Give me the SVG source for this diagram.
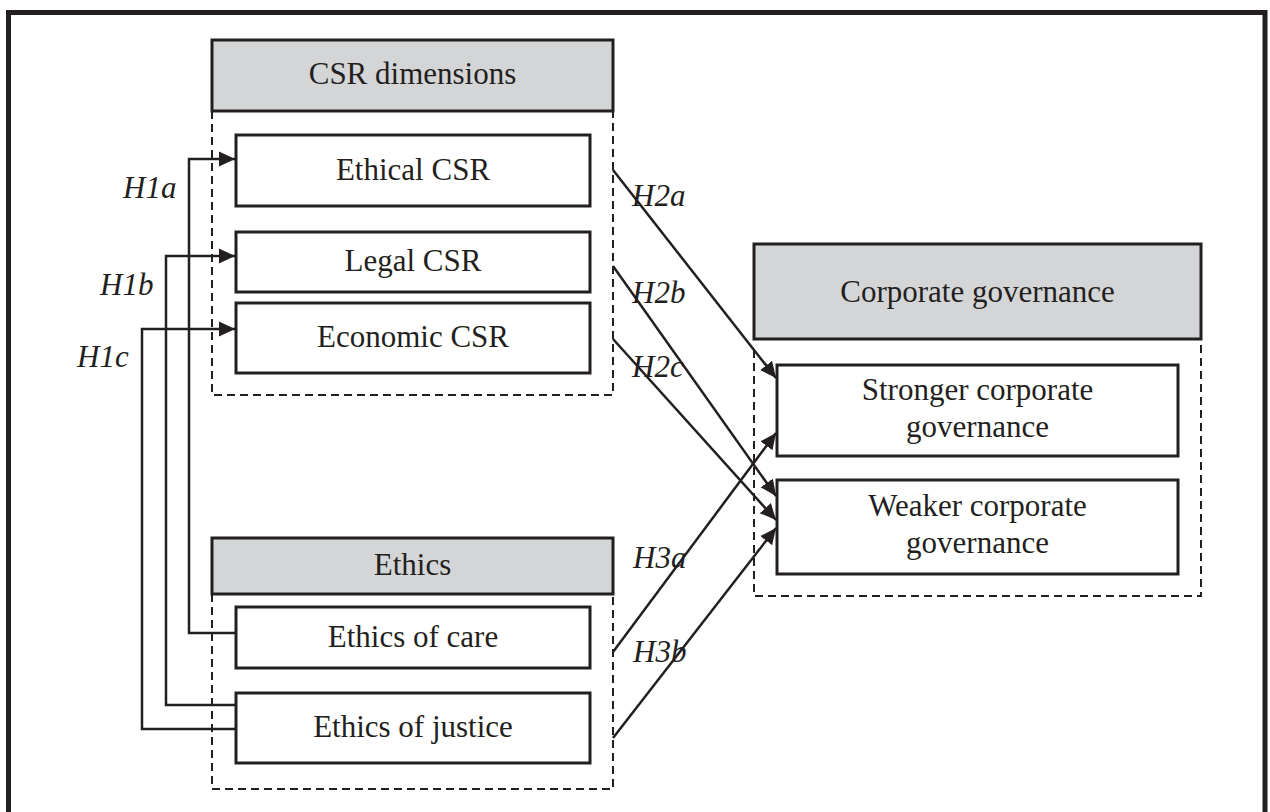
<svg xmlns="http://www.w3.org/2000/svg" width="1270" height="812" viewBox="0 0 1270 812">
<style>
  .frame { fill: none; stroke: #231f20; stroke-width: 5; }
  .hdr { fill: #d4d5d7; stroke: #231f20; stroke-width: 3; }
  .box { fill: #ffffff; stroke: #231f20; stroke-width: 3; }
  .dash { fill: none; stroke: #231f20; stroke-width: 2; stroke-dasharray: 8 5; }
  .lbl { font-family: "Liberation Serif", "Times New Roman", serif; font-size: 31px; fill: #231f20; text-anchor: middle; }
  .hyp { font-family: "Liberation Serif", "Times New Roman", serif; font-size: 31px; font-style: italic; fill: #231f20; }
  .con { fill: none; stroke: #231f20; stroke-width: 2.5; }
</style>
<defs>
  <marker id="arr" markerUnits="userSpaceOnUse" markerWidth="17" markerHeight="17" viewBox="0 0 17 17" refX="16" refY="8.5" orient="auto">
    <path d="M0,1 L16,8.5 L0,16 z" fill="#231f20"/>
  </marker>
</defs>
<rect width="1270" height="812" fill="#ffffff"/>
<rect class="frame" x="8.5" y="12.5" width="1256.5" height="830"/>

<g id="csr-group">
  <rect class="hdr" x="212" y="40" width="401" height="71"/>
  <text class="lbl" x="412.5" y="84">CSR dimensions</text>
  <path class="dash" d="M212,111 V395 H613 V111"/>
</g>
<g id="ethical-csr">
  <rect class="box" x="236" y="135" width="354" height="71"/>
  <text class="lbl" x="413" y="180">Ethical CSR</text>
</g>
<g id="legal-csr">
  <rect class="box" x="236" y="232" width="354" height="60"/>
  <text class="lbl" x="413" y="271">Legal CSR</text>
</g>
<g id="economic-csr">
  <rect class="box" x="236" y="303" width="354" height="70"/>
  <text class="lbl" x="413" y="347">Economic CSR</text>
</g>

<g id="ethics-group">
  <rect class="hdr" x="212" y="538" width="401" height="56"/>
  <text class="lbl" x="412.5" y="575">Ethics</text>
  <path class="dash" d="M212,594 V789 H613 V594"/>
</g>
<g id="ethics-care">
  <rect class="box" x="236" y="607" width="354" height="61"/>
  <text class="lbl" x="413" y="647">Ethics of care</text>
</g>
<g id="ethics-justice">
  <rect class="box" x="236" y="693" width="354" height="70"/>
  <text class="lbl" x="413" y="737">Ethics of justice</text>
</g>

<g id="cg-group">
  <rect class="hdr" x="754" y="244" width="447" height="95"/>
  <text class="lbl" x="977.5" y="302">Corporate governance</text>
  <path class="dash" d="M754,350 V596 H1201 V340"/>
</g>
<g id="stronger-cg">
  <rect class="box" x="777" y="365" width="401" height="91"/>
  <text class="lbl" x="977.5" y="400">Stronger corporate</text>
  <text class="lbl" x="977.5" y="437">governance</text>
</g>
<g id="weaker-cg">
  <rect class="box" x="777" y="480" width="401" height="94"/>
  <text class="lbl" x="977.5" y="516">Weaker corporate</text>
  <text class="lbl" x="977.5" y="553">governance</text>
</g>

<g id="connectors">
  <path class="con" d="M236,633 H189 V159 H235" marker-end="url(#arr)"/>
  <path class="con" d="M236,705 H166 V256 H235" marker-end="url(#arr)"/>
  <path class="con" d="M236,729 H142 V329 H235" marker-end="url(#arr)"/>
  <path class="con" d="M613,170 L776,378" marker-end="url(#arr)"/>
  <path class="con" d="M613,266 L776,496" marker-end="url(#arr)"/>
  <path class="con" d="M613,339 L776,520" marker-end="url(#arr)"/>
  <path class="con" d="M613,652 L776,433" marker-end="url(#arr)"/>
  <path class="con" d="M613,738 L776,528" marker-end="url(#arr)"/>
  <text class="hyp" x="123" y="198">H1a</text>
  <text class="hyp" x="100" y="295">H1b</text>
  <text class="hyp" x="77" y="367">H1c</text>
  <text class="hyp" x="632" y="206">H2a</text>
  <text class="hyp" x="632" y="303">H2b</text>
  <text class="hyp" x="632" y="377">H2c</text>
  <text class="hyp" x="633" y="568">H3a</text>
  <text class="hyp" x="633" y="662">H3b</text>
</g>
</svg>
